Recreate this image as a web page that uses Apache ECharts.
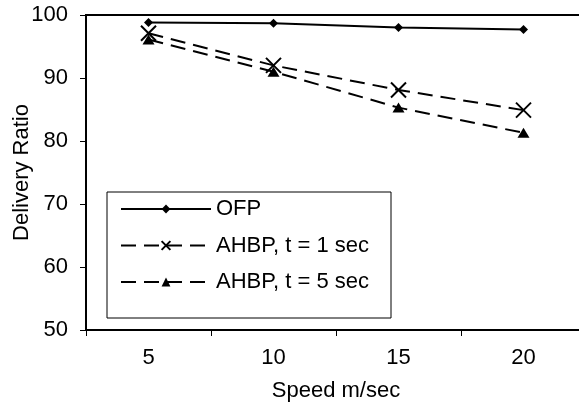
<!DOCTYPE html>
<html>
<head>
<meta charset="utf-8">
<script src="https://cdn.jsdelivr.net/npm/echarts@6/dist/echarts.min.js"></script>
<style>
  html, body { margin: 0; padding: 0; background: #fff; }
  #chart { width: 579px; height: 407px; }
</style>
</head>
<body>
<div id="chart"></div>
<script>
// Speeds (m/sec) on the category axis
const speeds = ['5', '10', '15', '20'];

// Delivery ratio (%) per protocol
const ofp = [98.8, 98.7, 98.0, 97.7];
const ahbp1 = [97.1, 92.0, 88.1, 84.9];
const ahbp5 = [96.1, 91.0, 85.3, 81.3];

const seriesNames = ['OFP', 'AHBP, t = 1 sec', 'AHBP, t = 5 sec'];

const FONT = 'Liberation Sans, Arial, Helvetica, sans-serif';
const FS = 22;
const INK = '#000';
const DASH = [15, 8];
const CROSS = 'path://M0,0L10,10M10,0L0,10';

const chart = echarts.init(document.getElementById('chart'), null, { renderer: 'canvas' });

chart.setOption({
  animation: false,
  backgroundColor: '#fff',
  textStyle: { fontFamily: FONT, color: INK },
  grid: {
    left: 86, top: 15, width: 500, bottom: 77,
    outerBoundsMode: 'none',
    containLabel: false,
    show: true, borderColor: INK, borderWidth: 2, backgroundColor: 'transparent'
  },
  graphic: [{
    type: 'rect',
    shape: { x: 107, y: 192, width: 284, height: 126 },
    style: { fill: '#fff', stroke: INK, lineWidth: 1 },
    z: 5
  }],
  legend: {
    orient: 'vertical',
    left: 120, top: 198,
    padding: 0,
    itemWidth: 90, itemHeight: 11, itemGap: 14.5,
    data: seriesNames,
    textStyle: { fontFamily: FONT, fontSize: FS, color: INK, lineHeight: 22 },
    selectedMode: false,
    z: 10
  },
  xAxis: {
    type: 'category',
    data: speeds,
    boundaryGap: true,
    name: 'Speed m/sec',
    nameLocation: 'middle',
    nameGap: 50,
    nameMoveOverlap: false,
    nameTextStyle: { fontFamily: FONT, fontSize: FS, color: INK },
    axisLine: { lineStyle: { color: INK, width: 2 } },
    axisTick: { show: true, length: 6, lineStyle: { color: INK, width: 1 } },
    axisLabel: { margin: 17, fontFamily: FONT, fontSize: FS, color: INK },
    splitLine: { show: false }
  },
  yAxis: {
    type: 'value',
    min: 50, max: 100, interval: 10,
    name: 'Delivery Ratio',
    nameLocation: 'middle',
    nameGap: 53,
    nameMoveOverlap: false,
    nameTextStyle: { fontFamily: FONT, fontSize: FS, color: INK },
    axisLine: { show: true, lineStyle: { color: INK, width: 2 } },
    axisTick: { show: true, length: 6, lineStyle: { color: INK, width: 1 } },
    axisLabel: { margin: 18, fontFamily: FONT, fontSize: FS, color: INK },
    splitLine: { show: false }
  },
  series: [
    {
      name: seriesNames[0], type: 'line', data: ofp,
      symbol: 'diamond', symbolSize: 9,
      lineStyle: { color: INK, width: 2, type: 'solid' },
      itemStyle: { color: INK, borderColor: INK, borderWidth: 0 },
      z: 3
    },
    {
      name: seriesNames[1], type: 'line', data: ahbp1,
      symbol: CROSS, symbolSize: 15,
      lineStyle: { color: INK, width: 2, type: DASH },
      itemStyle: { color: INK, borderColor: INK, borderWidth: 2 },
      z: 3
    },
    {
      name: seriesNames[2], type: 'line', data: ahbp5,
      symbol: 'triangle', symbolSize: [12, 10],
      lineStyle: { color: INK, width: 2, type: DASH },
      itemStyle: { color: INK, borderColor: INK, borderWidth: 0 },
      z: 3
    }
  ]
});
</script>
</body>
</html>
